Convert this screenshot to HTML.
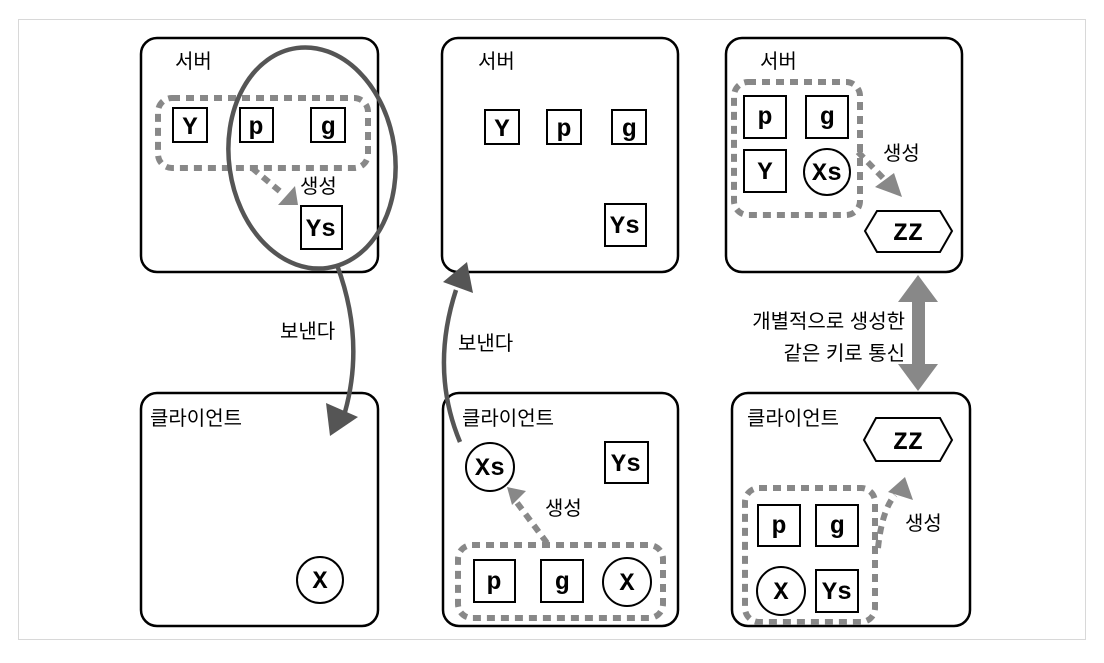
<!DOCTYPE html>
<html><head><meta charset="utf-8"><style>
body{margin:0;background:#fff}
</style></head><body>
<svg width="1104" height="658" viewBox="0 0 1104 658" xmlns="http://www.w3.org/2000/svg">
<rect x="18.5" y="19.5" width="1067" height="620" fill="#fff" stroke="#d8d8d8"/>
<g fill="#fff" stroke="#000" stroke-width="2.5">
<rect x="141" y="38" width="237" height="234" rx="16"/>
<rect x="442" y="38" width="236" height="234" rx="16"/>
<rect x="726" y="38" width="236" height="234" rx="16"/>
<rect x="141" y="393" width="237" height="233" rx="16"/>
<rect x="443" y="393" width="235" height="233" rx="16"/>
<rect x="732" y="393" width="238" height="233" rx="16"/>
</g>
<g font-size="20" fill="#000" font-family="Liberation Sans, Noto Sans CJK KR, sans-serif">
<text x="175" y="68">서버</text>
<text x="478" y="68">서버</text>
<text x="760" y="68">서버</text>
<text x="150" y="425">클라이언트</text>
<text x="462" y="425">클라이언트</text>
<text x="747" y="425">클라이언트</text>
<text x="300" y="193">생성</text>
<text x="883" y="160">생성</text>
<text x="545" y="515">생성</text>
<text x="905" y="530">생성</text>
<text x="280" y="338">보낸다</text>
<text x="458" y="350">보낸다</text>
<text x="905" y="328" text-anchor="end">개별적으로 생성한</text>
<text x="905" y="360" text-anchor="end">같은 키로 통신</text>
</g>
<g fill="none" stroke="#888" stroke-width="6" stroke-dasharray="8 6">
<rect x="158" y="98" width="210" height="70" rx="14"/>
<rect x="734" y="82" width="126" height="133" rx="14"/>
<rect x="458" y="545" width="205" height="73" rx="14"/>
<rect x="745" y="488" width="130" height="134" rx="14"/>
<path d="M252 168 L282 193"/>
<path d="M858 152 L885 180"/>
<path d="M547 543 L515 500"/>
<path d="M878 548 Q882 510 895 495"/>
</g>
<g fill="#888">
<polygon points="278,205 295,186 298,205"/>
<polygon points="875,187 894,173 902,197"/>
<polygon points="507,487 526,491 512,505"/>
<polygon points="905,477 913,500 888,492"/>
</g>
<g fill="#fff" stroke="#000" stroke-width="2">
<rect x="173" y="108" width="34" height="34"/><rect x="240" y="108" width="33" height="34"/><rect x="311" y="108" width="34" height="34"/>
<rect x="301" y="206" width="41" height="43"/>
<rect x="485" y="110" width="34" height="34"/><rect x="547" y="110" width="34" height="34"/><rect x="612" y="110" width="34" height="34"/>
<rect x="605" y="204" width="41" height="42"/>
<rect x="744" y="96" width="42" height="42"/><rect x="806" y="96" width="42" height="42"/><rect x="744" y="150" width="42" height="42"/>
<circle cx="827" cy="172" r="23"/>
<polygon points="865,231 877,211 940,211 952,231 940,252 877,252"/>
<circle cx="320" cy="580" r="23"/>
<circle cx="490" cy="467" r="24"/>
<rect x="605" y="442" width="43" height="41"/>
<rect x="474" y="560" width="41" height="42"/><rect x="541" y="560" width="42" height="42"/>
<circle cx="627" cy="582" r="24"/>
<polygon points="864,440 876,418 940,418 952,440 940,461 876,461"/>
<rect x="758" y="505" width="42" height="41"/><rect x="816" y="505" width="42" height="41"/>
<circle cx="781" cy="591" r="24"/>
<rect x="816" y="570" width="42" height="42"/>
</g>
<g text-anchor="middle" fill="#000" font-size="25" font-weight="bold" font-family="Liberation Mono, DejaVu Sans Mono, monospace">
<text x="190" y="134">Y</text><text x="256" y="134">p</text><text x="328" y="134">g</text>
<text x="321" y="236">Ys</text>
<text x="502" y="136">Y</text><text x="564" y="136">p</text><text x="629" y="136">g</text>
<text x="625" y="233">Ys</text>
<text x="765" y="124">p</text><text x="827" y="124">g</text><text x="765" y="179">Y</text>
<text x="827" y="180">Xs</text>
<text x="908" y="240">ZZ</text>
<text x="320" y="588">X</text>
<text x="490" y="475">Xs</text>
<text x="626" y="471">Ys</text>
<text x="494" y="589">p</text><text x="562" y="589">g</text><text x="627" y="590">X</text>
<text x="908" y="449">ZZ</text>
<text x="779" y="533">p</text><text x="837" y="533">g</text>
<text x="781" y="599">X</text><text x="837" y="599">Ys</text>
</g>
<g fill="none" stroke="#555" stroke-width="4.5">
<ellipse cx="312" cy="158" rx="83" ry="111" transform="rotate(-8 312 158)"/>
<path d="M337 265 Q365 340 345 412"/>
<path d="M460 442 Q430 370 456 290"/>
</g>
<g fill="#555">
<polygon points="330,436 326,403 358,417"/>
<polygon points="467,262 443,282 473,293"/>
</g>
<g fill="#888">
<rect x="912" y="298" width="13" height="68"/>
<polygon points="918,275 898,302 938,302"/>
<polygon points="918,391 898,364 938,364"/>
</g>
</svg>
</body></html>
